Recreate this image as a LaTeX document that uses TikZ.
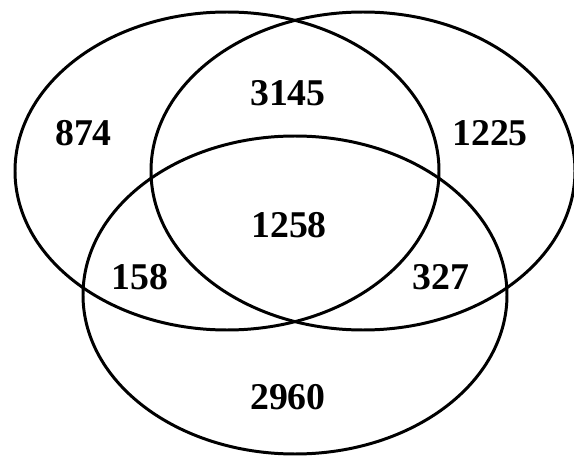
\documentclass[tikz,border=0pt]{standalone}
\usepackage{fontspec}
\setmainfont{Liberation Serif}
\usepackage{tikz}
\tikzset{
  setline/.style={line width=1.7pt, draw=black},
  setlabel/.style={font=\fontsize{21.5}{24}\selectfont\bfseries, inner sep=0pt},
}
\begin{document}
\begin{tikzpicture}
\useasboundingbox (0,0) rectangle (11.48,9.2);
\draw[setline] (4.54,5.78) ellipse [x radius=4.24, y radius=3.18];
\draw[setline] (7.26,5.78) ellipse [x radius=4.24, y radius=3.18];
\draw[setline] (5.90,3.30) ellipse [x radius=4.24, y radius=3.18];
\node[setlabel] (onlyA) at (1.67,6.54) {874};
\node[setlabel] (AB) at (5.76,7.33) {3145};
\node[setlabel] (onlyB) at (9.80,6.54) {1225};
\node[setlabel] (ABC) at (5.78,4.70) {1258};
\node[setlabel] (AC) at (2.80,3.66) {158};
\node[setlabel] (BC) at (8.82,3.66) {327};
\node[setlabel] (onlyC) at (5.76,1.26) {2960};
\end{tikzpicture}
\end{document}
